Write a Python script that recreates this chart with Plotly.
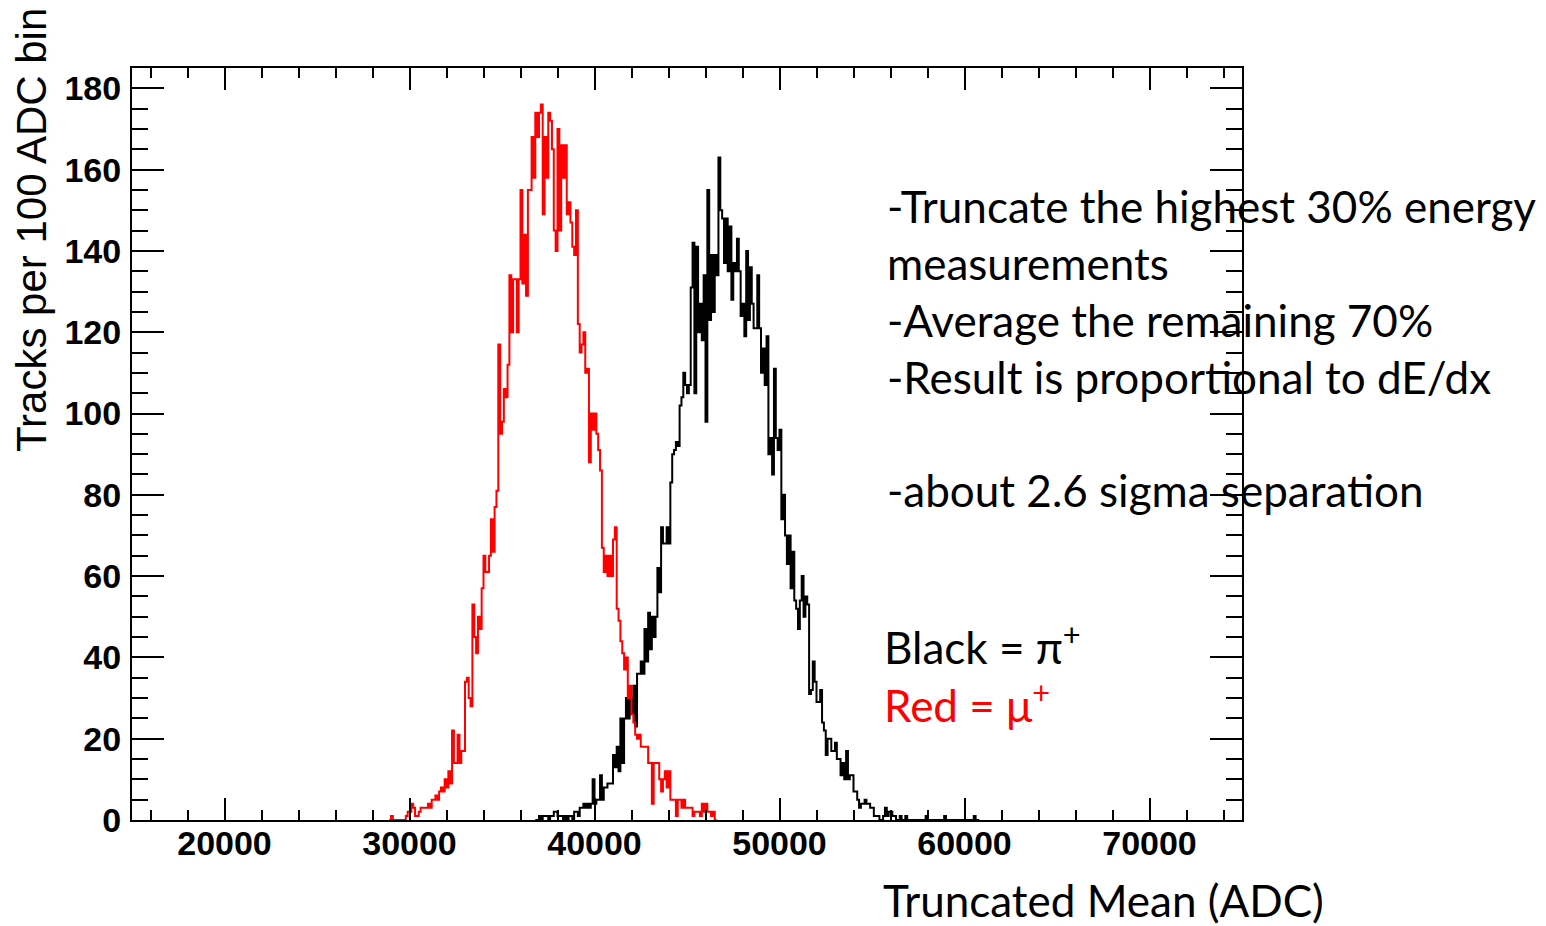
import numpy as np
import plotly.graph_objects as go

BIN = 100  # ADC per bin

# mu+ (red) counts per 100 ADC bin, starting at 29000
red_start = 29000
red_counts = [
    1, 0, 0, 0, 0, 0, 0, 0, 1, 2,            # 29000-29900
    2, 4, 3, 1, 1, 2, 3, 3, 3, 3,            # 30000-30900
    4, 3, 5, 5, 6, 5, 7, 8, 7, 10,           # 31000-31900
    8, 12, 9, 22, 14, 14, 21, 14, 17, 17,    # 32000-32900
    34, 35, 30, 28, 53, 45, 41, 50, 47, 57,  # 33000-33900
    65, 61, 61, 65, 74, 66, 77, 81, 117, 95, # 34000-34900
    98, 106, 104, 112, 134, 120, 133, 133, 120, 133,  # 35000-35900
    155, 132, 144, 129, 155, 155, 168, 158, 174, 168, # 36000-36900
    174, 176, 149, 168, 158, 174, 172, 165, 145, 140, # 37000-37900
    170, 145, 166, 158, 166, 149, 152, 147, 141, 139, # 38000-38900
    150, 122, 115, 117, 120, 110, 111, 88, 100, 96,   # 39000-39900
    100, 95, 91, 86, 67, 61, 65, 60, 65, 60,          # 40000-40900
    69, 72, 52, 49, 44, 41, 37, 40, 30, 33,           # 41000-41900
    26, 24, 21, 20, 21, 18, 18, 18, 18, 14,           # 42000-42900
    14, 4, 14, 14, 14, 10, 7, 10, 12, 8,              # 43000-43900
    12, 5, 5, 5, 1, 5, 5, 3, 5, 3,                    # 44000-44900
    3, 3, 3, 1, 2, 2, 2, 1, 4, 2,                     # 45000-45900
    4, 2, 2, 1, 2,                                    # 46000-46400
]

# pi+ (black) counts per 100 ADC bin, starting at 36900
black_start = 36900
black_counts = [
    0,                                                # 36900
    1, 0, 1, 1, 1, 0, 1, 1, 2, 2,                     # 37000-37900
    1, 1, 1, 0, 1, 0, 1, 1, 0, 2,                     # 38000-38900
    2, 1, 3, 3, 4, 3, 4, 3, 4, 10,                    # 39000-39900
    4, 5, 5, 11, 5, 8, 8, 9, 9, 9,                    # 40000-40900
    16, 13, 18, 12, 25, 14, 25, 30, 25, 30,           # 41000-41900
    26, 33, 23, 36, 36, 39, 36, 47, 39, 51,           # 42000-42900
    42, 50, 45, 50, 62, 56, 72, 68, 68, 72,           # 43000-43900
    68, 83, 90, 91, 93, 92, 102, 104, 110, 107,       # 44000-44900
    105, 107, 131, 142, 105, 141, 120, 127, 118, 134, # 45000-45900
    98, 155, 123, 139, 125, 139, 134, 163, 150, 148,  # 46000-46900
    137, 148, 135, 146, 128, 137, 135, 143, 135, 124, # 47000-47900
    127, 119, 140, 123, 136, 127, 121, 121, 134, 121, # 48000-48900
    110, 116, 107, 119, 90, 94, 85, 111, 94, 91,      # 49000-49900
    96, 74, 80, 70, 63, 70, 57, 66, 54, 52,           # 50000-50900
    47, 54, 60, 50, 55, 53, 31, 32, 39, 34,           # 51000-51900
    29, 29, 32, 24, 22, 16, 20, 20, 17, 17,           # 52000-52900
    19, 15, 15, 11, 14, 10, 17, 10, 11, 11,           # 53000-53900
    7, 7, 5, 3, 4, 4, 5, 4, 4, 3,                     # 54000-54900
    3, 1, 1, 1, 0, 0, 1, 3, 1, 2,                     # 55000-55900
    2, 1, 1, 0, 0, 1, 0, 0, 1, 0,                     # 56000-56900
    0, 0, 0, 0, 0, 0, 0, 0, 0, 1,                     # 57000-57900
    0, 0, 0, 0, 0, 0, 0, 0, 0, 1,                     # 58000-58900
    0, 0, 0, 0, 0, 0, 0, 0, 0, 0,                     # 59000-59900
    0, 0, 0, 0, 0, 1, 0,                              # 60000-60600
]

x_range = [15000, 75000]
y_range = [0, 185]
x_ticks = [20000, 30000, 40000, 50000, 60000, 70000]
x_tick_labels = ["20000", "30000", "40000", "50000", "60000", "70000"]
y_ticks = [0, 20, 40, 60, 80, 100, 120, 140, 160, 180]

notes = [
    "-Truncate the highest 30% energy",
    "measurements",
    "-Average the remaining 70%",
    "-Result is proportional to dE/dx",
    "-about 2.6 sigma separation",
]


def step_xy(start, counts):
    c = np.array([0] + list(counts) + [0], dtype=float)
    edges = start - BIN + BIN * np.arange(len(c) + 1)
    y = np.append(c, 0.0)
    return edges, y


fig = go.Figure()
for start, counts, color in [(black_start, black_counts, "black"),
                             (red_start, red_counts, "#ff0000")]:
    ex, ey = step_xy(start, counts)
    fig.add_trace(go.Scatter(x=ex, y=ey, mode="lines", line_shape="hv",
                             line=dict(color=color, width=2), showlegend=False,
                             hoverinfo="skip"))

# layout geometry (pixels)
L, R, T, B = 132, 1242, 68, 820
W, H = 1546, 926


def px(x):
    return (x - L) / (R - L)


def py(y):
    return (B - y) / (B - T)


tickfont = dict(family="Liberation Sans", size=34, color="black", weight="bold")
fig.update_layout(
    width=W, height=H, autosize=False,
    margin=dict(l=L, r=W - R, t=T, b=H - B, pad=0),
    paper_bgcolor="white", plot_bgcolor="white",
    xaxis=dict(range=x_range, tickvals=x_ticks, ticktext=x_tick_labels,
               ticks="inside", ticklen=22, tickwidth=2, tickcolor="black",
               minor=dict(dtick=2000, tick0=0, ticks="inside", ticklen=10,
                          tickwidth=2, tickcolor="black"),
               showline=True, linewidth=2, linecolor="black", mirror="allticks",
               showgrid=False, zeroline=False, tickfont=tickfont,
               ticklabelstandoff=-8),
    yaxis=dict(range=y_range, tickvals=y_ticks,
               ticks="inside", ticklen=32, tickwidth=2, tickcolor="black",
               minor=dict(dtick=5, tick0=0, ticks="inside", ticklen=16,
                          tickwidth=2, tickcolor="black"),
               showline=True, linewidth=2, linecolor="black", mirror="allticks",
               showgrid=False, zeroline=False, tickfont=tickfont,
               ticklabelstandoff=2),
)

txt_font = dict(family="Lato", size=44, color="black")
note_y = [206, 263, 320, 377, 490]
ann = []
for t, yy in zip(notes, note_y):
    ann.append(dict(text=t, x=px(885), y=py(yy), xref="paper", yref="paper",
                    xanchor="left", yanchor="middle", showarrow=False,
                    font=txt_font))
ann.append(dict(text="Black = π<sup>+</sup>", x=px(882), y=py(644),
                xref="paper", yref="paper", xanchor="left", yanchor="middle",
                showarrow=False, font=txt_font))
ann.append(dict(text="Red = μ<sup>+</sup>", x=px(882), y=py(702),
                xref="paper", yref="paper", xanchor="left", yanchor="middle",
                showarrow=False, font=dict(family="Lato", size=44, color="#ff0000")))
ann.append(dict(text="Truncated Mean (ADC)", x=px(881), y=py(900),
                xref="paper", yref="paper", xanchor="left", yanchor="middle",
                showarrow=False, font=txt_font))
ann.append(dict(text="Tracks per 100 ADC bin", x=px(31), y=py(6),
                xref="paper", yref="paper", xanchor="center", yanchor="top",
                textangle=-90, showarrow=False,
                font=dict(family="Liberation Sans", size=42, color="black")))
fig.update_layout(annotations=ann)

fig.write_html("out.html")
